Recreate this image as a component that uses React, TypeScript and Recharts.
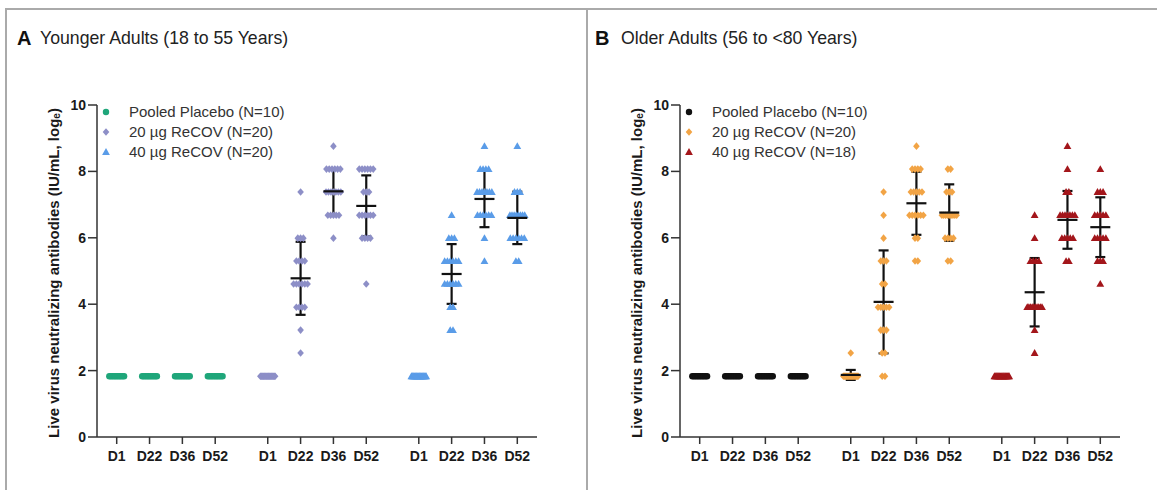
import { ScatterChart, Scatter, XAxis, YAxis, ErrorBar, Legend, Label } from "recharts"

// each timepoint: list of [log_e titre, number of subjects at that titre]
type Counts = [number, number][]

const timepoints = ["D1", "D22", "D36", "D52"]
const yTicks = [0, 2, 4, 6, 8, 10]

// A: younger adults
const youngPlacebo: Counts[] = [[[1.83, 10]], [[1.83, 10]], [[1.83, 10]], [[1.83, 10]]]
const young20: Counts[] = [
  [[1.83, 20]],
  [[7.38, 1], [5.99, 3], [5.3, 4], [4.61, 6], [3.91, 4], [3.22, 1], [2.53, 1]],
  [[8.76, 1], [8.07, 6], [7.38, 7], [6.68, 5], [5.99, 1]],
  [[8.07, 6], [7.38, 3], [6.68, 6], [5.99, 4], [4.61, 1]],
]
const young20Mean = [null, 4.78, 7.4, 6.96]
const young20Sd = [null, 1.1, 0.7, 0.92]
const young40: Counts[] = [
  [[1.83, 20]],
  [[6.68, 1], [5.99, 3], [5.3, 6], [4.61, 6], [3.91, 2], [3.22, 2]],
  [[8.76, 1], [8.07, 4], [7.38, 7], [6.68, 6], [5.99, 1], [5.3, 1]],
  [[8.76, 1], [7.38, 3], [6.68, 8], [5.99, 6], [5.3, 2]],
]
const young40Mean = [null, 4.91, 7.17, 6.6]
const young40Sd = [null, 0.9, 0.85, 0.79]

// B: older adults
const oldPlacebo: Counts[] = [[[1.83, 10]], [[1.83, 10]], [[1.83, 10]], [[1.83, 10]]]
const old20: Counts[] = [
  [[2.53, 1], [1.83, 19]],
  [[7.38, 1], [6.68, 1], [5.99, 1], [5.3, 3], [4.61, 2], [3.91, 5], [3.22, 3], [2.53, 2], [1.83, 2]],
  [[8.76, 1], [8.07, 4], [7.38, 5], [6.68, 6], [5.99, 2], [5.3, 2]],
  [[8.07, 2], [7.38, 3], [6.68, 9], [5.99, 4], [5.3, 2]],
]
const old20Mean = [1.87, 4.07, 7.04, 6.76]
const old20Sd = [0.15, 1.55, 0.95, 0.85]
const old40: Counts[] = [
  [[1.83, 18]],
  [[6.68, 1], [5.99, 1], [5.3, 4], [3.91, 10], [3.22, 1], [2.53, 1]],
  [[8.76, 1], [8.07, 1], [7.38, 2], [6.68, 7], [5.99, 5], [5.3, 2]],
  [[8.07, 1], [7.38, 3], [6.68, 5], [5.99, 5], [5.3, 3], [4.61, 1]],
]
const old40Mean = [null, 4.36, 6.54, 6.32]
const old40Sd = [null, 1.03, 0.87, 0.9]

type Marker = "circle" | "diamond" | "triangle"
type Series = {
  name: string
  color: string
  marker: Marker
  counts: Counts[]
  mean?: (number | null)[]
  sd?: (number | null)[]
}

const GROUP_GAP = 4.6
const xPos = (g: number, t: number) => 1 + t + g * GROUP_GAP
const xTicks = [0, 1, 2].flatMap(g => timepoints.map((_, t) => xPos(g, t)))

// spread tied values sideways like a scatter dot plot
function swarm(counts: Counts[], g: number) {
  const pts: { x: number; y: number }[] = []
  counts.forEach((levels, t) => {
    levels.forEach(([v, n]) => {
      const step = n > 1 ? Math.min(0.085, 0.45 / (n - 1)) : 0
      for (let i = 0; i < n; i++) pts.push({ x: xPos(g, t) + (i - (n - 1) / 2) * step, y: v })
    })
  })
  return pts
}

function meanRows(s: Series, g: number) {
  if (!s.mean || !s.sd) return []
  const rows: { x: number; y: number; sd: number }[] = []
  s.mean.forEach((m, t) => {
    if (m !== null) rows.push({ x: xPos(g, t), y: m, sd: s.sd![t] ?? 0 })
  })
  return rows
}

function markerPath(m: Marker, cx: number, cy: number) {
  if (m === "diamond") return `M${cx},${cy - 3.8}L${cx + 3.3},${cy}L${cx},${cy + 3.8}L${cx - 3.3},${cy}Z`
  if (m === "triangle") return `M${cx},${cy - 3.9}L${cx + 3.9},${cy + 2.9}L${cx - 3.9},${cy + 2.9}Z`
  return `M${cx - 3.2},${cy}a3.2,3.2 0 1,0 6.4,0a3.2,3.2 0 1,0 -6.4,0`
}

const shapeFor = (m: Marker, color: string) => (p: any) =>
  <path d={markerPath(m, p.cx, p.cy)} fill={color} />

const MeanLine = (p: any) =>
  <line x1={p.cx - 10} x2={p.cx + 10} y1={p.cy} y2={p.cy} stroke="#111" strokeWidth={2.2} />

const XTick = (p: any) => (
  <text x={p.x} y={p.y} dy="0.75em" textAnchor="middle" fontSize={14} fontWeight={700} fill="#1a1a1a">
    {timepoints[p.index % 4]}
  </text>
)

const YTick = (p: any) => (
  <text x={p.x} y={p.y} dy="0.36em" textAnchor="end" fontSize={14} fontWeight={700} fill="#1a1a1a">
    {p.payload.value}
  </text>
)

function LegendBox({ series }: { series: Series[] }) {
  return (
    <div style={{ fontSize: 15, color: "#333", lineHeight: "20px" }}>
      {series.map(s => (
        <div key={s.name} style={{ display: "flex", alignItems: "center", height: 20 }}>
          <svg width={12} height={12} style={{ marginLeft: 3, marginRight: 17 }}>
            <path d={markerPath(s.marker, 6, 6)} fill={s.color} />
          </svg>
          <span>{s.name}</span>
        </div>
      ))}
    </div>
  )
}

const YTitle = (props: any) => {
  const vb = props.viewBox || { x: 67, y: 105, width: 30, height: 332 }
  const cx = vb.x - 14
  const cy = vb.y + vb.height / 2 + 2
  return (
    <text x={cx} y={cy} transform={`rotate(-90 ${cx} ${cy})`} textAnchor="middle" dominantBaseline="central"
      fontSize={15} fontWeight={700} fill="#1a1a1a">
      Live virus neutralizing antibodies (IU/mL, log<tspan fontSize={10} dy={3}>e</tspan><tspan dy={-3}>)</tspan>
    </text>
  )
}

function Panel({ letter, title, series, left, letterX, titleX }:
  { letter: string; title: string; series: Series[]; left: number; letterX: number; titleX: number }) {
  const axisStyle = { stroke: "#333", strokeWidth: 1.5 }
  return (
    <div style={{ position: "absolute", left, top: 0, width: 580, height: 490 }}>
      <div style={{ position: "absolute", left: letterX, top: 28, fontSize: 20, fontWeight: 700, lineHeight: "20px", color: "#111" }}>{letter}</div>
      <div style={{ position: "absolute", left: titleX, top: 28, fontSize: 17.7, lineHeight: "20px", color: "#222" }}>{title}</div>
      <ScatterChart width={580} height={490} margin={{ top: 105, right: 43, bottom: 23, left: 67 }}>
        <XAxis type="number" dataKey="x" domain={[0.4, 13.8]} ticks={xTicks} interval={0} height={30}
          axisLine={axisStyle} tickLine={axisStyle} tickSize={7} tickMargin={6} tick={<XTick />} />
        <YAxis type="number" dataKey="y" domain={[0, 10]} ticks={yTicks} width={30}
          axisLine={axisStyle} tickLine={axisStyle} tickSize={9} tickMargin={2} tick={<YTick />}>
          <Label content={<YTitle />} />
        </YAxis>
        <Legend layout="vertical" align="center" verticalAlign="middle"
          wrapperStyle={{ left: 97, top: 102, width: 240 }}
          content={() => <LegendBox series={series} />} />
        {series.map((s, g) => (
          <Scatter key={s.name} name={s.name} data={swarm(s.counts, g)} fill={s.color}
            shape={shapeFor(s.marker, s.color)} isAnimationActive={false} />
        ))}
        {series.map((s, g) => s.mean ? (
          <Scatter key={s.name + "-mean"} data={meanRows(s, g)} shape={MeanLine} legendType="none" isAnimationActive={false}>
            <ErrorBar dataKey="sd" direction="y" width={5} stroke="#111" strokeWidth={2.2} />
          </Scatter>
        ) : null)}
      </ScatterChart>
    </div>
  )
}

const younger: Series[] = [
  { name: "Pooled Placebo (N=10)", color: "#1fa67a", marker: "circle", counts: youngPlacebo },
  { name: "20 µg ReCOV (N=20)", color: "#8d8fc7", marker: "diamond", counts: young20, mean: young20Mean, sd: young20Sd },
  { name: "40 µg ReCOV (N=20)", color: "#5a9ce8", marker: "triangle", counts: young40, mean: young40Mean, sd: young40Sd },
]
const older: Series[] = [
  { name: "Pooled Placebo (N=10)", color: "#111111", marker: "circle", counts: oldPlacebo },
  { name: "20 µg ReCOV (N=20)", color: "#f2a445", marker: "diamond", counts: old20, mean: old20Mean, sd: old20Sd },
  { name: "40 µg ReCOV (N=18)", color: "#a3161b", marker: "triangle", counts: old40, mean: old40Mean, sd: old40Sd },
]

export default function App() {
  return (
    <div style={{ position: "absolute", left: 0, top: 0, width: 1157, height: 490, background: "#fff", overflow: "hidden",
      fontFamily: "'Liberation Sans', Arial, sans-serif" }}>
      <div style={{ position: "absolute", left: 5, right: 0, top: 8, height: 2, background: "#aaa" }} />
      <div style={{ position: "absolute", left: 5, top: 8, bottom: 0, width: 2, background: "#aaa" }} />
      <div style={{ position: "absolute", left: 586, top: 8, bottom: 0, width: 2, background: "#aaa" }} />
      <Panel letter="A" title="Younger Adults (18 to 55 Years)" series={younger} left={0} letterX={17} titleX={40} />
      <Panel letter="B" title="Older Adults (56 to <80 Years)" series={older} left={583} letterX={12} titleX={38} />
    </div>
  )
}
